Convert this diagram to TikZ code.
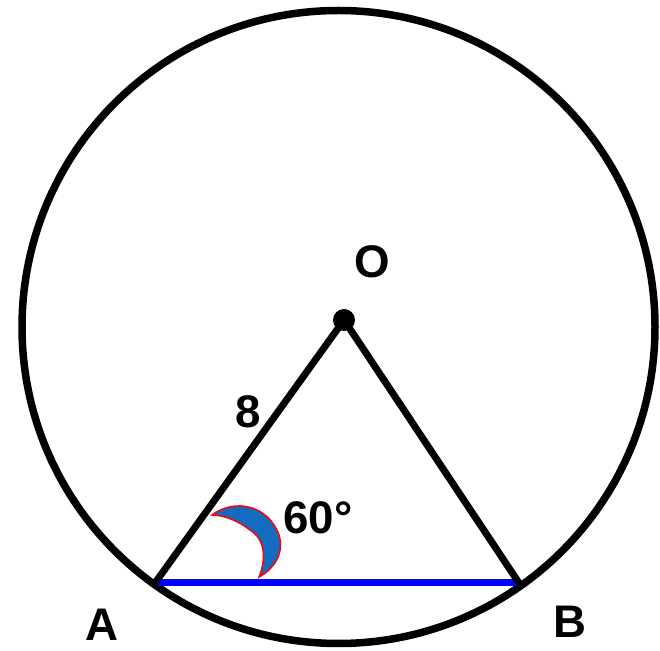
\documentclass[tikz,border=0pt]{standalone}
\usepackage{fontspec}
\setmainfont{Liberation Sans}
\usepackage{tikz}

\definecolor{arcblue}{RGB}{20,108,192}

\tikzset{
  lbl/.style={font=\fontsize{26}{30}\selectfont\bfseries},
  side/.style={line width=0.14cm, line cap=round},
}

\begin{document}
\begin{tikzpicture}[x=0.02cm, y=-0.02cm]
                    \useasboundingbox (0,0) rectangle (660,651);
                    % Points
                    \coordinate (O) at (344,320);
                    \coordinate (A) at (155,583);
                    \coordinate (B) at (519,583);
                    \coordinate (C) at (338.5,327);
                    % Circle
                    \draw[line width=0.15cm] (C) circle (316.5);
                    % Chord
                    \draw[blue, line width=0.14cm] (A) -- (B);
                    % Sides
                    \draw[side] (A) -- (O);
                    \draw[side] (O) -- (B);
                    \fill (O) circle (11);
                    % Angle
                    \filldraw[fill=arcblue, draw=red, line width=0.03cm]
                      (212,515) .. controls (235,498) and (268,505) .. (279,535)
                      .. controls (285,555) and (272,570) .. (259,577)
                      .. controls (266,560) and (266,540) .. (250,530)
                      .. controls (240,522) and (225,515) .. (212,515) -- cycle;
                    % Labels
                    \node[lbl] (o) at (372,262) {O};
                    \node[lbl] (a) at (102,625) {A};
                    \node[lbl] (b) at (570,622) {B};
                    \node[lbl] (len) at (248,412) {8};
                    \node[lbl] (ang) at (318,518) {60°};
                \end{tikzpicture}
\end{document}
